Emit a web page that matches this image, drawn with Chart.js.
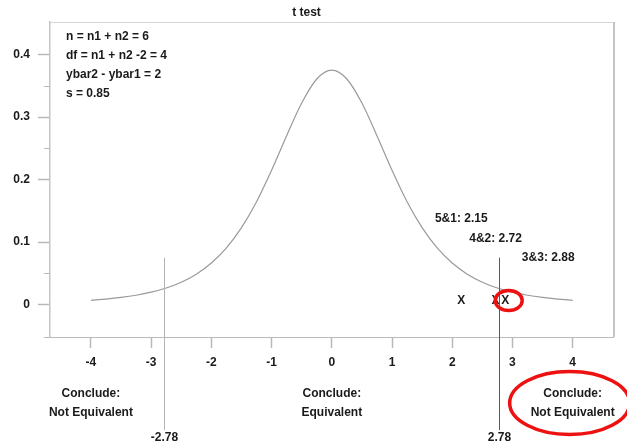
<!DOCTYPE html>
<html>
<head>
<meta charset="utf-8">
<title>t test</title>
<script src="https://cdn.jsdelivr.net/npm/chart.js@4"></script>
<style>
  html, body { margin: 0; padding: 0; background: #fff; }
  #wrap { width: 627px; height: 446px; }
</style>
</head>
<body>
<div id="wrap"><canvas id="chart" width="627" height="446"></canvas></div>
<script>
// t distribution, df = 4
const tValues = [-4, -3.75, -3.5, -3.25, -3, -2.75, -2.5, -2.25, -2, -1.75, -1.5, -1.25, -1, -0.75, -0.5, -0.25,
  0, 0.25, 0.5, 0.75, 1, 1.25, 1.5, 1.75, 2, 2.25, 2.5, 2.75, 3, 3.25, 3.5, 3.75, 4];
const density = [0.0067, 0.0087, 0.0113, 0.0148, 0.0197, 0.0264, 0.0357, 0.0485, 0.0663, 0.0905, 0.1229, 0.1644, 0.2147, 0.2699, 0.3223, 0.3608,
  0.375, 0.3608, 0.3223, 0.2699, 0.2147, 0.1644, 0.1229, 0.0905, 0.0663, 0.0485, 0.0357, 0.0264, 0.0197, 0.0148, 0.0113, 0.0087, 0.0067];

const pairNames = ["5&1", "4&2", "3&3"];
const pairT = [2.15, 2.72, 2.88];
const critical = [-2.78, 2.78];

const xTicks = [-4, -3, -2, -1, 0, 1, 2, 3, 4];
const yTicks = [0, 0.1, 0.2, 0.3, 0.4];
const yMinorTicks = [0.05, 0.25, 0.35];

const infoLines = ["n = n1 + n2 = 6", "df = n1 + n2 -2 = 4", "ybar2 - ybar1 = 2", "s = 0.85"];
const regionText = [["Conclude:", "Not Equivalent"], ["Conclude:", "Equivalent"], ["Conclude:", "Not Equivalent"]];

const FONT = "bold 12px 'Liberation Sans', Arial, sans-serif";
const INK = "#1a1a1a";

Chart.defaults.font.family = "'Liberation Sans', Arial, sans-serif";
Chart.defaults.font.size = 12;
Chart.defaults.font.weight = "bold";
Chart.defaults.color = INK;

const extras = {
  id: "extras",
  afterDraw(chart) {
    const ctx = chart.ctx;
    const area = chart.chartArea;
    const xs = chart.scales.x;
    const ys = chart.scales.y;
    ctx.save();

    // frame top / right, axis stub
    ctx.strokeStyle = "#d6d6d6";
    ctx.lineWidth = 1;
    ctx.beginPath();
    ctx.moveTo(area.left, area.top + 0.5);
    ctx.lineTo(area.right, area.top + 0.5);
    ctx.stroke();
    ctx.strokeStyle = "#c4c4c4";
    ctx.lineWidth = 2;
    ctx.beginPath();
    ctx.moveTo(area.right + 1, area.top);
    ctx.lineTo(area.right + 1, area.bottom);
    ctx.stroke();
    ctx.strokeStyle = "#bbb";
    ctx.lineWidth = 1;
    ctx.beginPath();
    ctx.moveTo(area.left - 6, area.bottom + 0.5);
    ctx.lineTo(area.left, area.bottom + 0.5);
    ctx.stroke();

    // minor y ticks
    yMinorTicks.forEach(v => {
      const y = Math.round(ys.getPixelForValue(v)) + 0.5;
      ctx.beginPath();
      ctx.moveTo(area.left - 6, y);
      ctx.lineTo(area.left, y);
      ctx.stroke();
    });

    // critical value lines
    ctx.font = FONT;
    ctx.fillStyle = INK;
    ctx.textAlign = "center";
    ctx.textBaseline = "middle";
    critical.forEach((c, i) => {
      const x = Math.round(xs.getPixelForValue(c)) + 0.5;
      ctx.strokeStyle = i === 0 ? "#b4b4b4" : "#5a5a5a";
      ctx.lineWidth = 1;
      ctx.beginPath();
      ctx.moveTo(x, ys.getPixelForValue(0.075));
      ctx.lineTo(x, area.bottom + 93);
      ctx.stroke();
      ctx.fillText(c.toFixed(2), x, area.bottom + 101);
    });

    // observed t values
    const y0 = ys.getPixelForValue(0);
    pairT.forEach(t => {
      ctx.fillText("X", xs.getPixelForValue(t), y0 - 4);
    });
    const labelDx = [0, 0, 43];
    const labelDy = [-86, -66, -47];
    pairT.forEach((t, i) => {
      ctx.fillText(pairNames[i] + ": " + t.toFixed(2), xs.getPixelForValue(t) + labelDx[i], y0 + labelDy[i]);
    });

    // info block
    ctx.textAlign = "left";
    infoLines.forEach((s, i) => {
      ctx.fillText(s, area.left + 16, area.top + 15 + i * 19);
    });

    // conclusions under the axis
    ctx.textAlign = "center";
    const regionAt = [-4, 0, 4];
    regionText.forEach((lines, i) => {
      const x = xs.getPixelForValue(regionAt[i]);
      lines.forEach((s, j) => ctx.fillText(s, x, area.bottom + 57 + j * 19));
    });

    // red highlights
    ctx.strokeStyle = "#ee1111";
    ctx.lineWidth = 3.5;
    ctx.beginPath();
    ctx.ellipse(xs.getPixelForValue(pairT[2]) + 3.5, y0 - 4, 13.5, 10, 0, 0, Math.PI * 2);
    ctx.stroke();
    ctx.beginPath();
    ctx.ellipse(xs.getPixelForValue(4) - 3, area.bottom + 66, 60, 31.5, 0, 0, Math.PI * 2);
    ctx.stroke();

    ctx.restore();
  }
};

const ctx = document.getElementById("chart").getContext("2d");
const chart = new Chart(ctx, {
  type: "line",
  data: {
    datasets: [{
      label: "t density",
      data: tValues.map((t, i) => ({ x: t, y: density[i] })),
      borderColor: "#9a9a9a",
      borderWidth: 1.2,
      pointRadius: 0,
      cubicInterpolationMode: "monotone",
      fill: false
    }]
  },
  options: {
    responsive: false,
    animation: false,
    layout: { padding: { left: 0, right: 14, top: 0, bottom: 0 } },
    plugins: {
      legend: { display: false },
      tooltip: { enabled: false },
      title: {
        display: true,
        text: "t test",
        color: INK,
        font: { size: 12, weight: "bold" },
        padding: { top: 5, bottom: 2.6 }
      }
    },
    scales: {
      x: {
        type: "linear",
        min: -4.68,
        max: 4.67,
        afterBuildTicks: s => { s.ticks = xTicks.map(v => ({ value: v })); },
        afterFit: s => { s.height = 109; },
        grid: { drawOnChartArea: false, tickLength: 11, tickColor: "#b8b8b8", tickWidth: 1.5 },
        border: { color: "#bbb", width: 1 },
        ticks: { padding: 7, maxRotation: 0, callback: v => String(v) }
      },
      y: {
        type: "linear",
        min: -0.052,
        max: 0.452,
        afterBuildTicks: s => { s.ticks = yTicks.map(v => ({ value: v })); },
        afterFit: s => { s.width = 50; },
        grid: { drawOnChartArea: false, tickLength: 12, tickColor: "#b8b8b8", tickWidth: 1.5 },
        border: { color: "#c4c4c4", width: 1.5 },
        ticks: { padding: 8, callback: v => String(v) }
      }
    }
  },
  plugins: [extras]
});
</script>
</body>
</html>
